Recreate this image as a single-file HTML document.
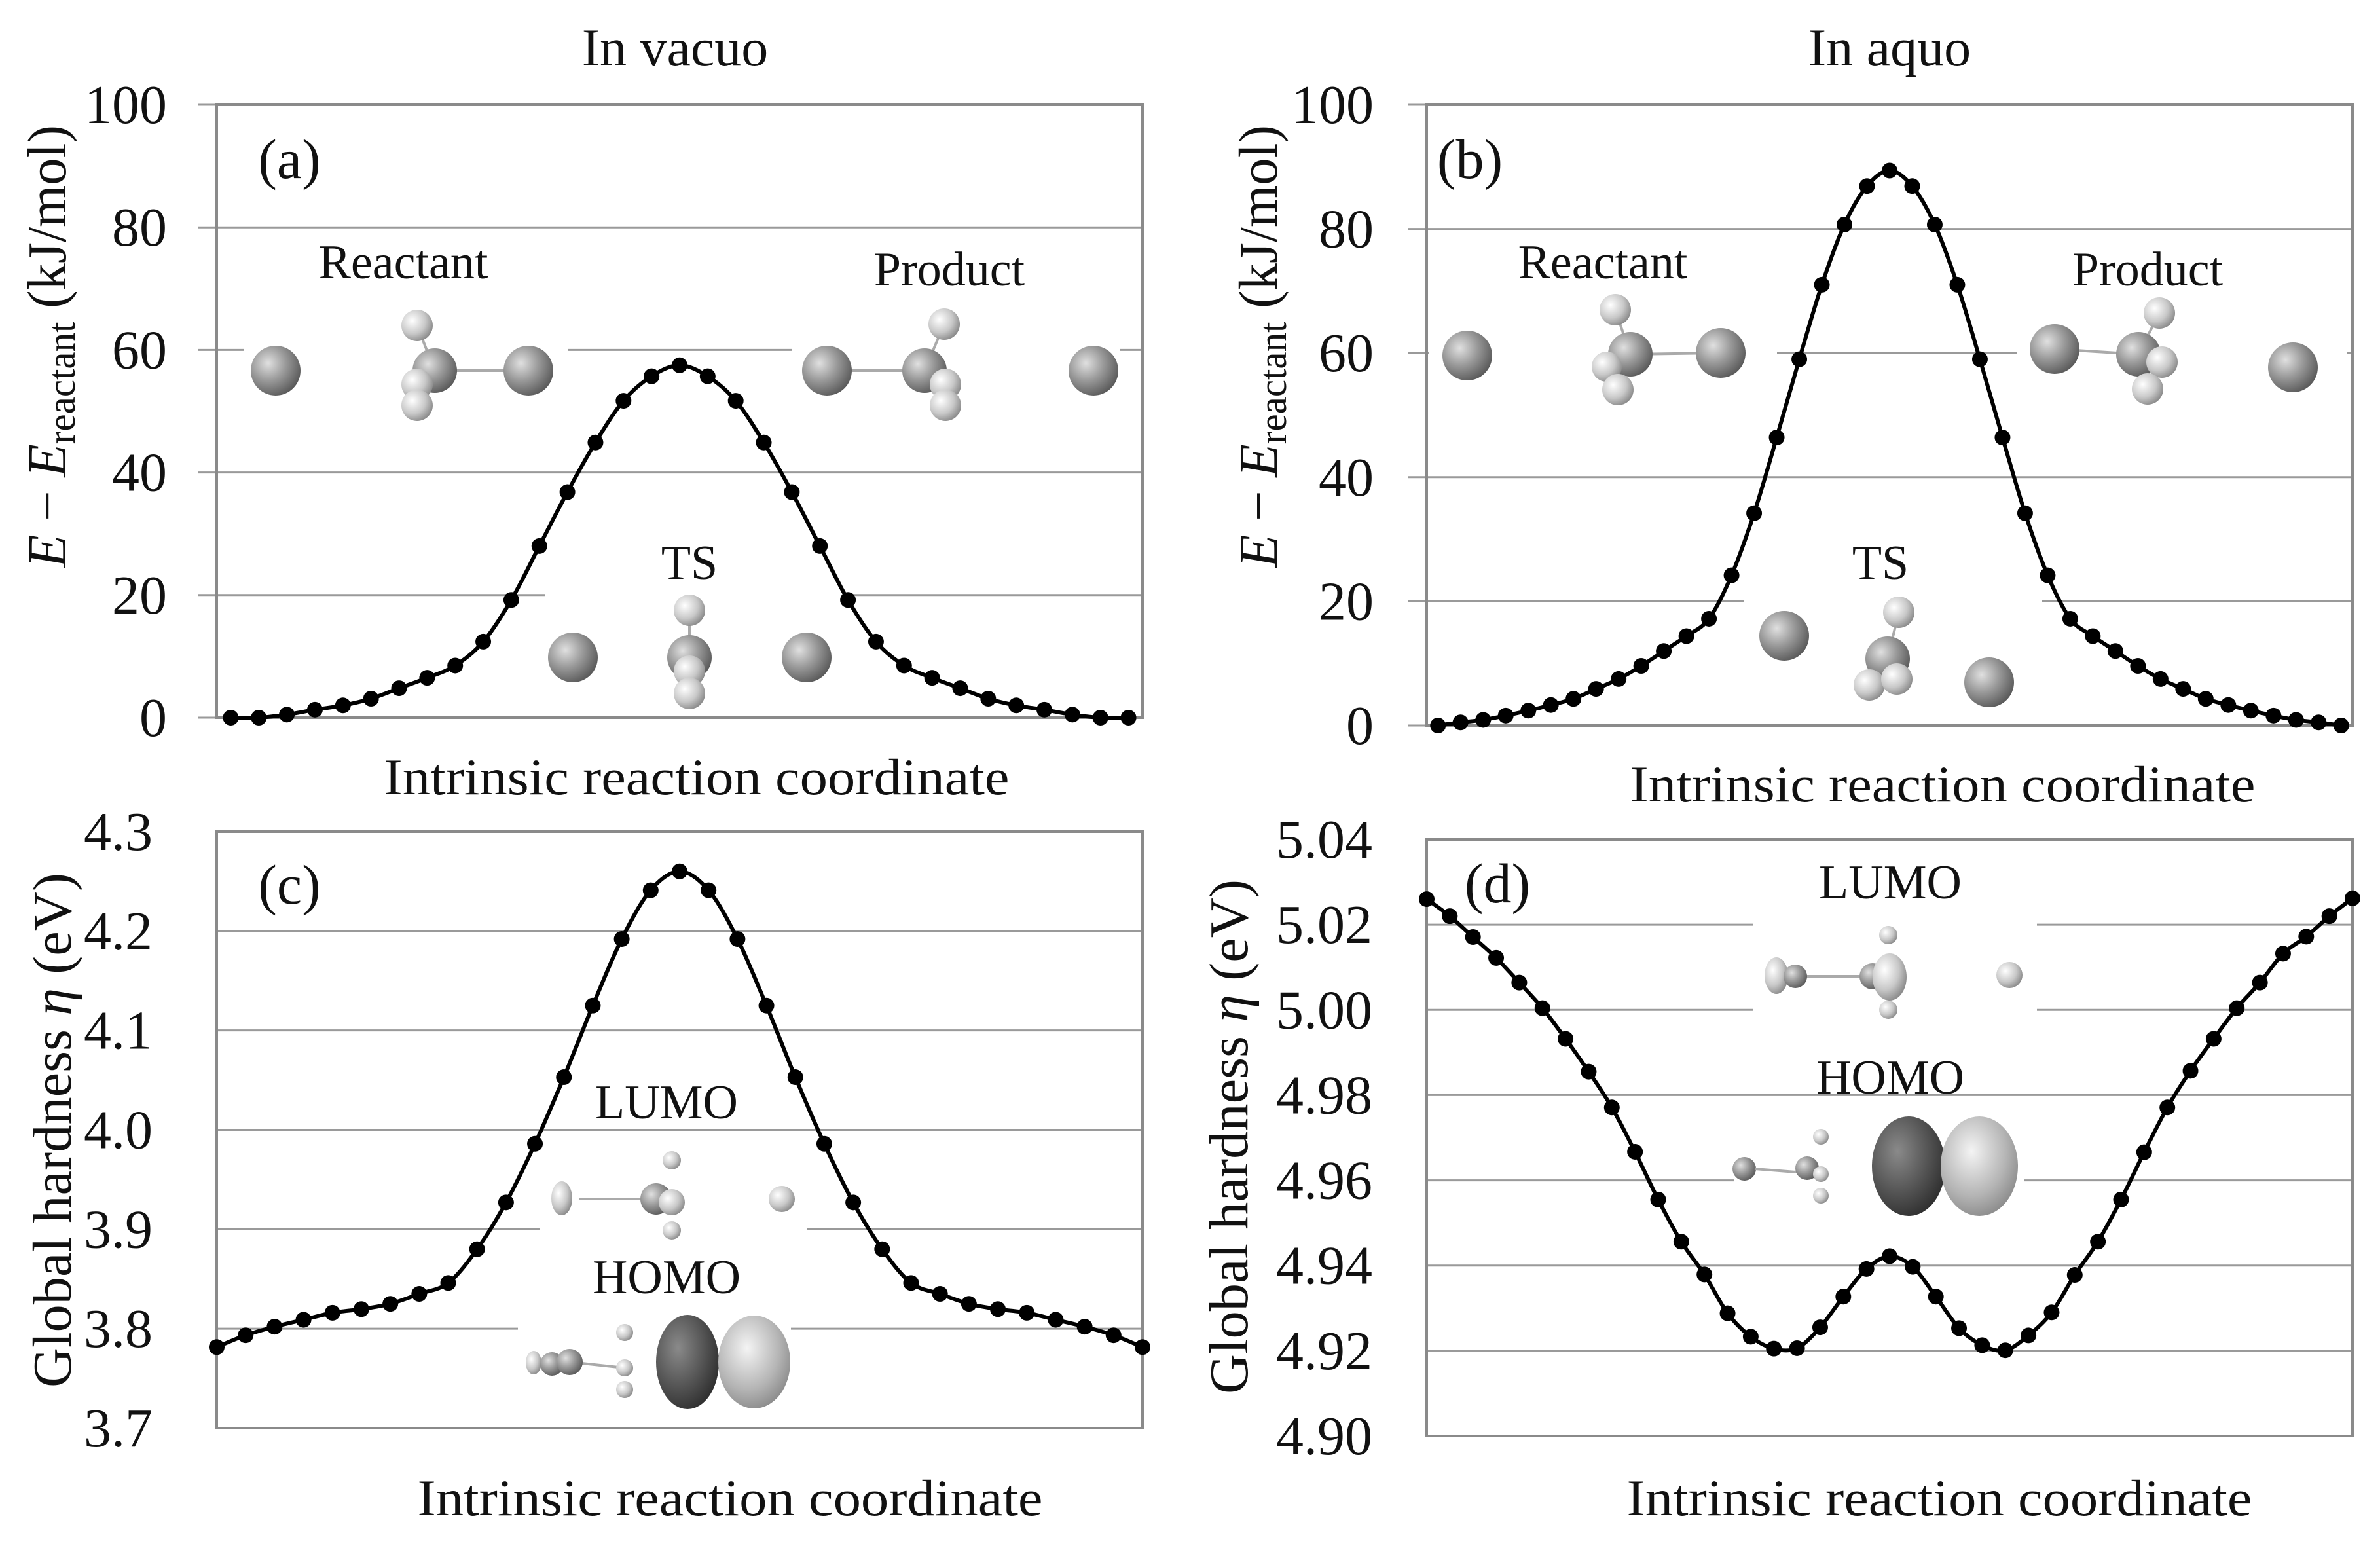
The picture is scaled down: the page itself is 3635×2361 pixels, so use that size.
<!DOCTYPE html>
<html><head><meta charset="utf-8"><style>
html,body{margin:0;padding:0;background:#fff;}
svg{display:block;}
text{font-family:"Liberation Serif",serif;fill:#111;}
</style></head><body>
<svg id="fig" width="3635" height="2361" viewBox="0 0 3635 2361" xmlns="http://www.w3.org/2000/svg">
<defs>
<radialGradient id="atomG" cx="35%" cy="35%" r="70%"><stop offset="0" stop-color="#e0e0e0"/><stop offset="0.5" stop-color="#9a9a9a"/><stop offset="1" stop-color="#5a5a5a"/></radialGradient>
<radialGradient id="hG" cx="35%" cy="35%" r="70%"><stop offset="0" stop-color="#ffffff"/><stop offset="0.6" stop-color="#c8c8c8"/><stop offset="1" stop-color="#8a8a8a"/></radialGradient>
<radialGradient id="darkG" cx="35%" cy="35%" r="75%"><stop offset="0" stop-color="#8a8a8a"/><stop offset="0.6" stop-color="#505050"/><stop offset="1" stop-color="#2a2a2a"/></radialGradient>
<radialGradient id="lightG" cx="40%" cy="35%" r="75%"><stop offset="0" stop-color="#f4f4f4"/><stop offset="0.6" stop-color="#b4b4b4"/><stop offset="1" stop-color="#808080"/></radialGradient>
</defs>
<g id="layer"></g>
</svg>
<script>
// ---- data ----
const catsA = Array.from({length:33},(_,i)=>i+1);
const energyVacuo = [0,0,0.5,1.3,2.0,3.1,4.8,6.5,8.5,12.4,19.2,28.0,36.8,44.9,51.7,55.7,57.5,55.7,51.7,44.9,36.8,28.0,19.2,12.4,8.5,6.5,4.8,3.1,2.0,1.3,0.5,0,0];
const catsB = Array.from({length:41},(_,i)=>i+1);
const energyAquo = [0,0.5,0.9,1.6,2.4,3.3,4.3,5.9,7.5,9.6,12.0,14.4,17.2,24.2,34.2,46.4,59.0,71.0,80.7,86.9,89.4,86.9,80.7,71.0,59.0,46.4,34.2,24.2,17.2,14.4,12.0,9.6,7.5,5.9,4.3,3.3,2.4,1.6,0.9,0.5,0];
const catsC = Array.from({length:33},(_,i)=>i+1);
const hardVacuo = [3.7815,3.7934,3.802,3.809,3.816,3.8197,3.825,3.835,3.846,3.880,3.927,3.986,4.053,4.125,4.192,4.241,4.260,4.241,4.192,4.125,4.053,3.986,3.927,3.880,3.846,3.835,3.825,3.8197,3.816,3.809,3.802,3.7934,3.7815];
const catsD = Array.from({length:41},(_,i)=>i+1);
const hardAquo = [5.026,5.022,5.0171,5.0122,5.0064,5.0004,4.9932,4.9855,4.9771,4.9667,4.9555,4.9456,4.9379,4.9288,4.9233,4.9205,4.9206,4.9255,4.9327,4.9392,4.9422,4.9397,4.9327,4.9253,4.9213,4.9201,4.9236,4.9290,4.9378,4.9456,4.9555,4.9666,4.9771,4.9857,4.9932,5.0004,5.0064,5.0132,5.0172,5.022,5.0262];
const ticksA = ["0","20","40","60","80","100"];
const ticksB = ["0","20","40","60","80","100"];
const ticksC = ["3.7","3.8","3.9","4.0","4.1","4.2","4.3"];
const ticksD = ["4.90","4.92","4.94","4.96","4.98","5.00","5.02","5.04"];

const NS="http://www.w3.org/2000/svg";
const L=document.getElementById('layer');
function mk(tag,attrs,parent){const e=document.createElementNS(NS,tag);for(const k in attrs)e.setAttribute(k,attrs[k]);(parent||L).appendChild(e);return e;}

function panel(o){
  const g=mk('g',{});
  
  
  const ymin=parseFloat(o.ticks[0]), ymax=parseFloat(o.ticks[o.ticks.length-1]);
  const Y=v=>o.bottom-(v-ymin)/(ymax-ymin)*(o.bottom-o.top);
  const n=o.cats.length;
  const X=o.edge? (i=>o.left+i*(o.right-o.left)/(n-1)) : (i=>o.left+(i+0.5)*(o.right-o.left)/n);
  o.ticks.forEach((t,i)=>{
    const v=parseFloat(t), y=Y(v);
    if(i>0 && i<o.ticks.length-1){
      const gl=mk('line',{x1:o.left,x2:o.right,y1:y,y2:y,stroke:'#9a9a9a','stroke-width':3},g);
      
      
    }
    if(o.tickOut){mk('line',{x1:o.left-28,x2:o.left,y1:y,y2:y,stroke:'#9a9a9a','stroke-width':3},g);}
    const tl=mk('text',{x:o.labelX,y:y+28,'text-anchor':'end','font-size':84},g);
    tl.textContent=t;
    
    
  });
  (o.boxes||[]).forEach(b=>mk('rect',{x:b[0],y:b[1],width:b[2],height:b[3],fill:'#fff'},g));
  const fr=mk('rect',{x:o.left,y:o.top,width:o.right-o.left,height:o.bottom-o.top,fill:'none',stroke:'#8a8a8a','stroke-width':4},g);
  
  
  const mg=mk('g',{},g);
  (o.atoms||[]).forEach(a=>{
    if(a[0]==='b'){mk('line',{x1:a[1],y1:a[2],x2:a[3],y2:a[4],stroke:'#aaa','stroke-width':4},mg);return;}
    if(a[0]==='e'){mk('ellipse',{cx:a[1],cy:a[2],rx:a[3],ry:a[4],fill:'url(#'+a[5]+')'},mg);return;}
    mk('circle',{cx:a[1],cy:a[2],r:a[3],fill:a[0]==='H'?'url(#hG)':'url(#atomG)'},mg);
  });
  (o.labels||[]).forEach(l=>{const t=mk('text',{x:l[0],y:l[1],'text-anchor':'middle','font-size':l[3]||74},g);t.textContent=l[2];
    
    });
  const pts=o.vals.map((v,i)=>[X(i),Y(v)]);
  let d='M'+pts[0][0]+','+pts[0][1];
  for(let i=0;i<pts.length-1;i++){
    const p0=pts[Math.max(0,i-1)],p1=pts[i],p2=pts[i+1],p3=pts[Math.min(pts.length-1,i+2)];
    const c1=[p1[0]+(p2[0]-p0[0])/6,p1[1]+(p2[1]-p0[1])/6];
    const c2=[p2[0]-(p3[0]-p1[0])/6,p2[1]-(p3[1]-p1[1])/6];
    d+=' C'+c1[0]+','+c1[1]+' '+c2[0]+','+c2[1]+' '+p2[0]+','+p2[1];
  }
  const ln=mk('path',{d:d,fill:'none',stroke:'#000','stroke-width':6},g);
  
  
  pts.forEach(p=>{const c=mk('circle',{cx:p[0],cy:p[1],r:12,fill:'#000'},g);
    
    });
}

panel({name:'panel-a-energy-vacuo',left:331,right:1745,top:160,bottom:1096,cats:catsA,vals:energyVacuo,ticks:ticksA,labelX:255,tickOut:true,edge:false,
 boxes:[[372,440,496,220],[1210,440,500,220],[832,880,455,210]],
 atoms:[['Cl',421,566,38],['b',664,566,807,566],['b',637,497,664,566],['H',637,497,24],['C',664,566,34],['H',637,587,24],['H',637,619,24],['Cl',807,566,38],
  ['b',1263,566,1412,566],['b',1442,495,1412,566],['Cl',1263,566,38],['C',1412,566,34],['H',1442,495,24],['H',1444,587,24],['H',1444,619,24],['Cl',1670,566,38],
  ['Cl',875,1004,38],['b',1053,932,1053,1004],['H',1053,932,24],['C',1053,1004,34],['H',1053,1025,24],['H',1053,1059,24],['Cl',1232,1004,38]],
 labels:[[442,272,'(a)',86],[616,425,'Reactant'],[1450,436,'Product'],[1053,884,'TS']]});

panel({name:'panel-b-energy-aquo',left:2179,right:3593,top:160,bottom:1108,cats:catsB,vals:energyAquo,ticks:ticksB,labelX:2098,tickOut:true,edge:false,
 boxes:[[2182,440,532,200],[3081,440,504,200],[2664,900,455,190]],
 atoms:[['Cl',2241,543,38],['b',2490,541,2628,539],['b',2467,473,2490,541],['H',2467,473,24],['C',2490,541,34],['H',2454,560,23],['H',2471,595,24],['Cl',2628,539,38],
  ['b',3138,533,3266,541],['b',3298,478,3266,541],['Cl',3138,533,38],['C',3266,541,34],['H',3298,478,24],['H',3302,553,24],['H',3280,594,24],['Cl',3502,561,38],
  ['Cl',2725,971,38],['b',2900,935,2883,1006],['H',2900,935,24],['C',2883,1006,34],['H',2855,1046,24],['H',2897,1037,24],['Cl',3038,1042,38]],
 labels:[[2245,272,'(b)',86],[2448,425,'Reactant'],[3280,436,'Product'],[2872,884,'TS']]});

panel({name:'panel-c-hardness-vacuo',left:331,right:1745,top:1270,bottom:2181,cats:catsC,vals:hardVacuo,ticks:ticksC,labelX:233,tickOut:false,edge:true,
 boxes:[[825,1740,408,170],[791,1990,417,180]],
 atoms:[['e',858,1830,16,26,'hG'],['b',884,1831,1002,1831],['H',1026,1772,14],['C',1002,1831,24],['H',1026,1836,20],['H',1026,1879,14],['H',1194,1831,20],
  ['e',815,2081,12,18,'hG'],['b',870,2080,954,2089],['Cl',843,2083,18],['C',870,2080,20],['H',954,2035,13],['H',954,2089,13],['H',954,2122,13],
  ['e',1050,2080,48,72,'darkG'],['e',1152,2080,55,71,'lightG']],
 labels:[[442,1380,'(c)',86],[1018,1708,'LUMO'],[1018,1975,'HOMO']]});

panel({name:'panel-d-hardness-aquo',left:2179,right:3593,top:1282,bottom:2193,cats:catsD,vals:hardAquo,ticks:ticksD,labelX:2096,tickOut:false,edge:true,
 boxes:[[2677,1395,434,165],[2649,1695,443,165]],
 atoms:[['e',2713,1490,18,28,'hG'],['b',2742,1491,2860,1491],['Cl',2742,1491,18],['H',2884,1428,14],['C',2860,1491,20],['e',2886,1492,26,36,'hG'],['H',2884,1542,14],['H',3069,1489,20],
  ['Cl',2664,1785,18],['b',2680,1785,2781,1793],['C',2760,1784,18],['H',2781,1736,12],['H',2781,1793,12],['H',2781,1826,12],
  ['e',2915,1781,56,76,'darkG'],['e',3023,1781,59,76,'lightG']],
 labels:[[2287,1378,'(d)',86],[2887,1372,'LUMO'],[2887,1670,'HOMO']]});

function txt(name,x,y,s,size,extra){const t=mk('text',Object.assign({x:x,y:y,'text-anchor':'middle','font-size':size},extra||{}));t.textContent=s;
 
 return t;}
txt('title-in-vacuo',1031,100,'In vacuo',82);
txt('title-in-aquo',2886,100,'In aquo',82);
txt('x-axis-title-a',1064,1213,'Intrinsic reaction coordinate',78,{textLength:955,lengthAdjust:'spacingAndGlyphs'});
txt('x-axis-title-b',2967,1224,'Intrinsic reaction coordinate',78,{textLength:955,lengthAdjust:'spacingAndGlyphs'});
txt('x-axis-title-c',1115,2314,'Intrinsic reaction coordinate',78,{textLength:955,lengthAdjust:'spacingAndGlyphs'});
txt('x-axis-title-d',2962,2314,'Intrinsic reaction coordinate',78,{textLength:955,lengthAdjust:'spacingAndGlyphs'});

function ytitleE(name,cx,cy){
  const t=mk('text',{x:0,y:0,'text-anchor':'middle','font-size':84,transform:'translate('+cx+','+cy+') rotate(-90)',textLength:676,lengthAdjust:'spacingAndGlyphs'});
  
  
  t.innerHTML='<tspan font-style="italic">E</tspan> − <tspan font-style="italic">E</tspan><tspan font-size="60" dy="14">reactant</tspan><tspan dy="-14"> (kJ/mol)</tspan>';
}
ytitleE('y-axis-title-a',100,529);
ytitleE('y-axis-title-b',1950,529);
function ytitleH(name,cx,cy){
  const t=mk('text',{x:0,y:0,'text-anchor':'middle','font-size':84,transform:'translate('+cx+','+cy+') rotate(-90)',textLength:786,lengthAdjust:'spacingAndGlyphs'});
  
  
  t.innerHTML='Global hardness <tspan font-style="italic">η</tspan> (eV)';
}
ytitleH('y-axis-title-c',108,1726);
ytitleH('y-axis-title-d',1905,1736);
</script>
</body></html>
